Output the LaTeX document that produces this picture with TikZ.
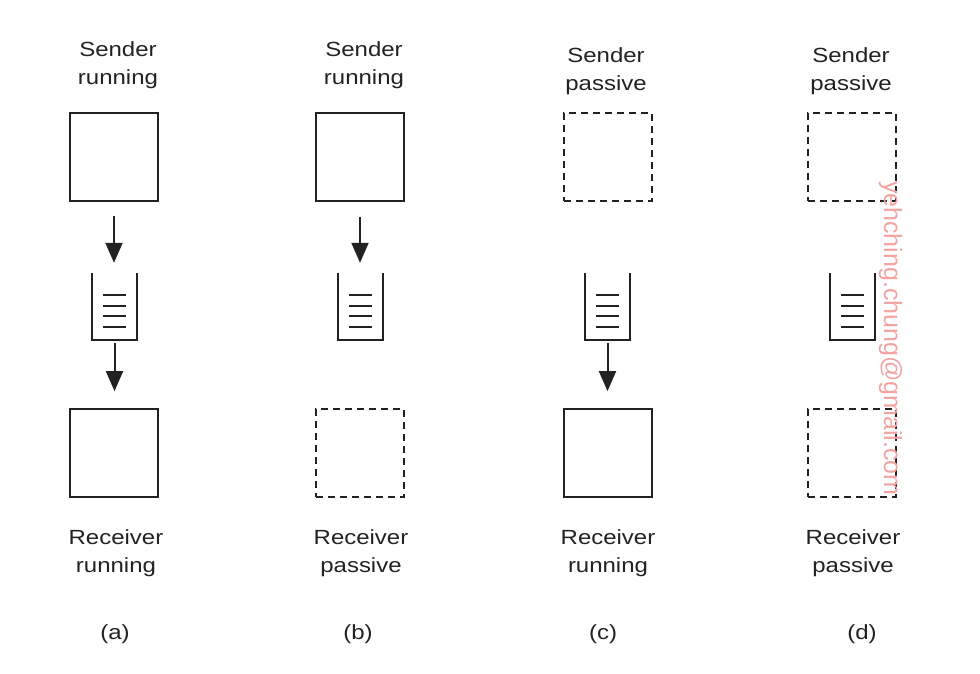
\documentclass[tikz,border=0pt]{standalone}
\usepackage{fontspec}
\setmainfont{Liberation Sans}[FakeStretch=1.17]
\newfontfamily\wmfont{Liberation Sans}
\usetikzlibrary{arrows.meta}
\definecolor{ink}{HTML}{222222}
\definecolor{wm}{HTML}{F4A3A3}
\tikzset{
  procbox/.style={draw=ink, line width=1.7pt, minimum width=88pt, minimum height=88pt, inner sep=0pt},
  idlebox/.style={procbox, line width=1.5pt, dash pattern=on 7pt off 5pt},
  qbox/.style={minimum width=45pt, minimum height=67pt, inner sep=0pt},
  qwall/.style={draw=ink, line width=1.7pt},
  qline/.style={draw=ink, line width=1.5pt},
  msg/.style={draw=ink, line width=2pt, -{Triangle[length=20pt,width=17pt]}},
  lbl/.style={text=ink, font=\fontsize{20.5pt}{28pt}\selectfont, align=center, anchor=base, inner sep=0pt},
}
\newcommand\drawqueue[2]{%
  \node[qbox] (#1) at (#2) {};
  \draw[qwall] (#1.north west) -- (#1.south west) -- (#1.south east) -- (#1.north east);
  \foreach \yy in {13,24,34,45}{
    \draw[qline] ([xshift=11pt,yshift=\yy pt]#1.south west) -- ([xshift=-11pt,yshift=\yy pt]#1.south east);
  }%
}
\begin{document}
\begin{tikzpicture}[x=1pt,y=-1pt]
\useasboundingbox (0,0) rectangle (980,674);
% column (a)
\node[lbl] (ta) at (118,85) {Sender\\running};
\node[procbox] (sa) at (114,157) {};
\drawqueue{qa}{114.5,306.5}
\node[procbox] (ra) at (114,453) {};
\node[lbl] (ua) at (116,572) {Receiver\\running};
\node[lbl] (la) at (115,639) {(a)};
\draw[msg, shorten <=14pt, shorten >=10pt] (sa.south) -- (sa.south |- qa.north);
\draw[msg, shorten <=3pt, shorten >=17pt] (qa.south) -- (qa.south |- ra.north);
% column (b)
\node[lbl] (tb) at (364,85) {Sender\\running};
\node[procbox] (sb) at (360,157) {};
\drawqueue{qb}{360.5,306.5}
\node[idlebox] (rb) at (360,453) {};
\node[lbl] (ub) at (361,572) {Receiver\\passive};
\node[lbl] (lb) at (358,639) {(b)};
\draw[msg, shorten <=15pt, shorten >=10pt] (sb.south) -- (sb.south |- qb.north);
% column (c)
\node[lbl] (tc) at (606,91) {Sender\\passive};
\node[idlebox] (sc) at (608,157) {};
\drawqueue{qc}{607.5,306.5}
\node[procbox] (rc) at (608,453) {};
\node[lbl] (uc) at (608,572) {Receiver\\running};
\node[lbl] (lc) at (603,639) {(c)};
\draw[msg, shorten <=3pt, shorten >=17pt] (qc.south) -- (qc.south |- rc.north);
% column (d)
\node[lbl] (td) at (851,91) {Sender\\passive};
\node[idlebox] (sd) at (852,157) {};
\drawqueue{qd}{852.5,306.5}
\node[idlebox] (rd) at (852,453) {};
\node[lbl] (ud) at (853,572) {Receiver\\passive};
\node[lbl] (ld) at (862,639) {(d)};
% watermark
\node[text=wm, font=\wmfont\fontsize{25pt}{25pt}\selectfont, rotate=-90, anchor=base west, inner sep=0pt] (wmark) at (884,181) {yehching.chung@gmail.com};
\end{tikzpicture}
\end{document}
